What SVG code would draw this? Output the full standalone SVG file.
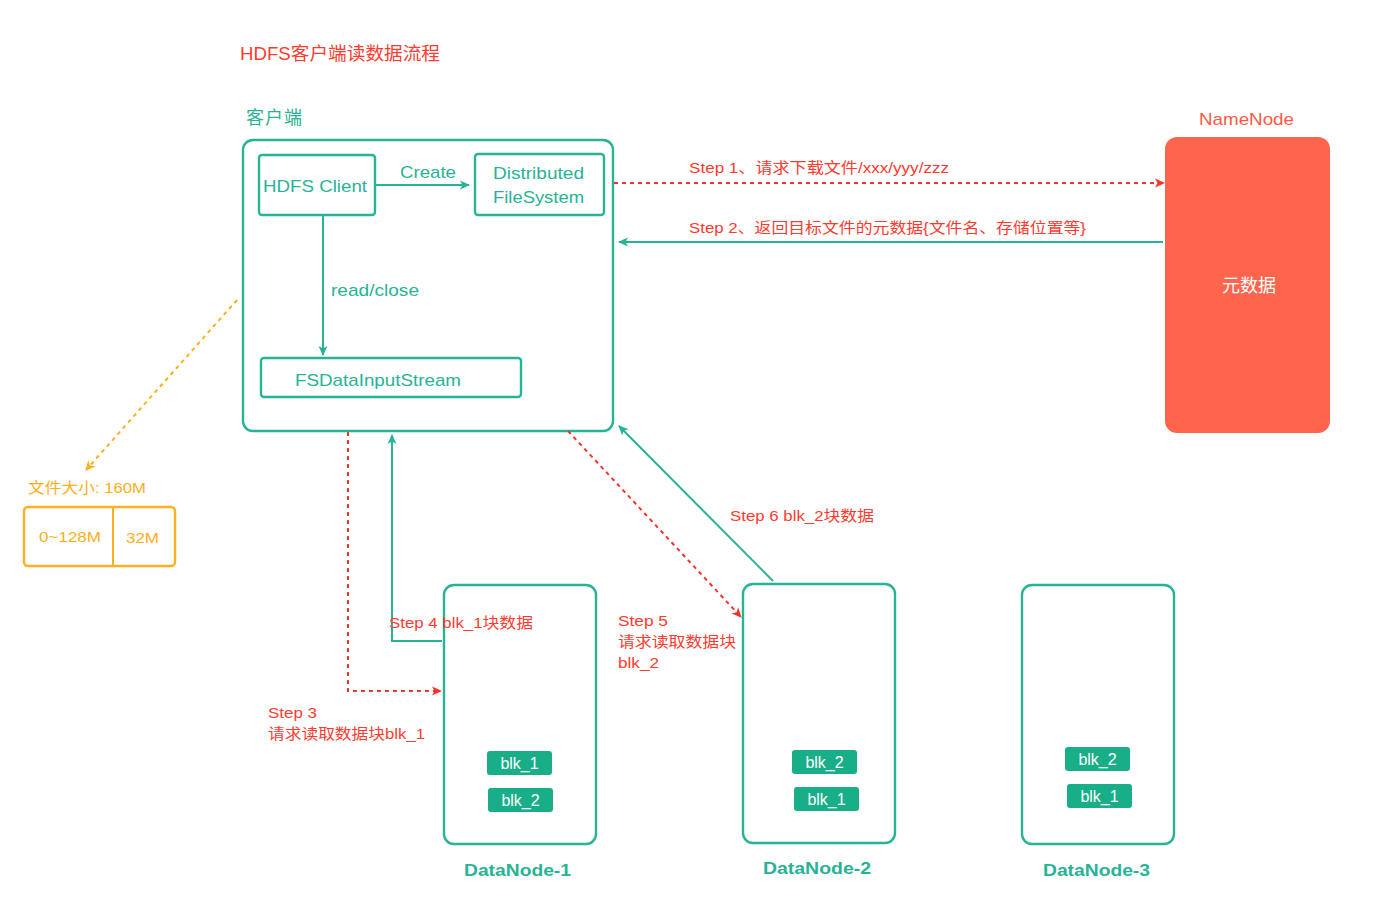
<svg xmlns="http://www.w3.org/2000/svg" width="1396" height="924" viewBox="0 0 1396 924">
<defs>
<style>
text{font-family:"Liberation Sans","Noto Sans CJK SC",sans-serif}
.t{fill:#27B395}
.r{fill:#FF3B2F}
.o{fill:#FFAE1A}
.box{fill:none;stroke:#27B395;stroke-width:2.4}
.blk{fill:#17AE88}
.bt{fill:#ffffff;font-size:16px;text-anchor:middle}
.dn{fill:#27B395;font-size:17px;font-weight:bold}
.tl{fill:none;stroke:#27B395;stroke-width:2}
.rl{fill:none;stroke:#F2352C;stroke-width:2;stroke-dasharray:4 4}
.ol{fill:none;stroke:#FFB022;stroke-width:2;stroke-dasharray:4 4}
</style>
<marker id="at" markerWidth="12" markerHeight="12" refX="9" refY="6" orient="auto" markerUnits="userSpaceOnUse"><path d="M0,1.5 L10,6 L0,10.5 L2.5,6 Z" fill="#27B395"/></marker>
<marker id="ar" markerWidth="12" markerHeight="12" refX="9" refY="6" orient="auto" markerUnits="userSpaceOnUse"><path d="M0,1.5 L10,6 L0,10.5 L2.5,6 Z" fill="#F2352C"/></marker>
<marker id="ao" markerWidth="12" markerHeight="12" refX="9" refY="6" orient="auto" markerUnits="userSpaceOnUse"><path d="M0,1 L10,6 L0,11 L3,6 Z" fill="#FFB022"/></marker>
</defs>
<rect width="1396" height="924" fill="#ffffff"/>

<text x="240" y="60" class="r" font-size="18" textLength="200" lengthAdjust="spacingAndGlyphs">HDFS客户端读数据流程</text>

<g id="client">
<text x="246" y="124" class="t" font-size="18" textLength="56">客户端</text>
<rect x="243" y="140" width="370" height="291" rx="10" class="box"/>
</g>
<g id="hdfs-client">
<rect x="259" y="155" width="116" height="60" rx="3" class="box"/>
<text x="263" y="192" class="t" font-size="17" textLength="104" lengthAdjust="spacingAndGlyphs">HDFS Client</text>
</g>
<g id="dfs">
<rect x="475" y="154" width="129" height="61" rx="3" class="box"/>
<text x="493" y="179" class="t" font-size="17" textLength="91" lengthAdjust="spacingAndGlyphs">Distributed</text>
<text x="493" y="203" class="t" font-size="17" textLength="91" lengthAdjust="spacingAndGlyphs">FileSystem</text>
</g>
<g id="fsdis">
<rect x="261" y="358" width="260" height="39" rx="3" class="box"/>
<text x="295" y="386" class="t" font-size="17" textLength="166" lengthAdjust="spacingAndGlyphs">FSDataInputStream</text>
</g>
<g id="namenode">
<text x="1199" y="125" fill="#FF5A45" font-size="17" textLength="95" lengthAdjust="spacingAndGlyphs">NameNode</text>
<rect x="1165" y="137" width="165" height="296" rx="12" fill="#FF654D"/>
<text x="1249" y="292" fill="#ffffff" font-size="18" text-anchor="middle">元数据</text>
</g>
<g id="filesize">
<text x="28" y="493" class="o" font-size="15" textLength="118" lengthAdjust="spacingAndGlyphs">文件大小: 160M</text>
<rect x="24" y="507" width="151" height="59" rx="4" fill="none" stroke="#FFB022" stroke-width="2.4"/>
<line x1="113" y1="508" x2="113" y2="565" stroke="#FFB022" stroke-width="2"/>
<text x="39" y="542" class="o" font-size="15" textLength="62" lengthAdjust="spacingAndGlyphs">0~128M</text>
<text x="126" y="543" class="o" font-size="15" textLength="33" lengthAdjust="spacingAndGlyphs">32M</text>
</g>
<g id="datanode-1">
<rect x="444" y="585" width="152" height="259" rx="10" class="box"/>
<rect x="487" y="751" width="65" height="24" rx="3" class="blk"/>
<text x="519.5" y="769" class="bt">blk_1</text>
<rect x="488" y="788" width="65" height="24" rx="3" class="blk"/>
<text x="520.5" y="806" class="bt">blk_2</text>
<text x="464" y="876" class="dn" textLength="107" lengthAdjust="spacingAndGlyphs">DataNode-1</text>
</g>
<g id="datanode-2">
<rect x="743" y="584" width="152" height="259" rx="10" class="box"/>
<rect x="792" y="750" width="65" height="24" rx="3" class="blk"/>
<text x="824.5" y="768" class="bt">blk_2</text>
<rect x="794" y="787" width="65" height="24" rx="3" class="blk"/>
<text x="826.5" y="805" class="bt">blk_1</text>
<text x="763" y="874" class="dn" textLength="108" lengthAdjust="spacingAndGlyphs">DataNode-2</text>
</g>
<g id="datanode-3">
<rect x="1022" y="585" width="152" height="259" rx="10" class="box"/>
<rect x="1065" y="747" width="65" height="24" rx="3" class="blk"/>
<text x="1097.5" y="765" class="bt">blk_2</text>
<rect x="1067" y="784" width="65" height="24" rx="3" class="blk"/>
<text x="1099.5" y="802" class="bt">blk_1</text>
<text x="1043" y="876" class="dn" textLength="107" lengthAdjust="spacingAndGlyphs">DataNode-3</text>
</g>

<g id="connectors">
<line x1="375" y1="185" x2="469" y2="185" class="tl" marker-end="url(#at)"/>
<text x="400" y="178" class="t" font-size="17" textLength="56" lengthAdjust="spacingAndGlyphs">Create</text>
<line x1="323" y1="215" x2="323" y2="355" class="tl" marker-end="url(#at)"/>
<text x="331" y="296" class="t" font-size="17" textLength="88" lengthAdjust="spacingAndGlyphs">read/close</text>

<line x1="614" y1="183" x2="1164" y2="183" class="rl" marker-end="url(#ar)"/>
<text x="689" y="173" class="r" font-size="15" textLength="260" lengthAdjust="spacingAndGlyphs">Step 1、请求下载文件/xxx/yyy/zzz</text>
<line x1="1163" y1="242" x2="619" y2="242" class="tl" marker-end="url(#at)"/>
<text x="689" y="233" class="r" font-size="15" textLength="397" lengthAdjust="spacingAndGlyphs">Step 2、返回目标文件的元数据{文件名、存储位置等}</text>

<line x1="237" y1="300" x2="86" y2="470" class="ol" marker-end="url(#ao)"/>

<polyline points="348,432 348,691 441,691" class="rl" marker-end="url(#ar)"/>
<text x="268" y="718" class="r" font-size="15" textLength="49" lengthAdjust="spacingAndGlyphs">Step 3</text>
<text x="268" y="739" class="r" font-size="15" textLength="157" lengthAdjust="spacingAndGlyphs">请求读取数据块blk_1</text>

<polyline points="442,641 392,641 392,435" class="tl" marker-end="url(#at)"/>
<text x="389" y="628" class="r" font-size="15" textLength="144" lengthAdjust="spacingAndGlyphs">Step 4 blk_1块数据</text>

<line x1="568" y1="431" x2="741" y2="617" class="rl" marker-end="url(#ar)"/>
<text x="618" y="626" class="r" font-size="15" textLength="50" lengthAdjust="spacingAndGlyphs">Step 5</text>
<text x="618" y="647" class="r" font-size="15" textLength="118" lengthAdjust="spacingAndGlyphs">请求读取数据块</text>
<text x="618" y="668" class="r" font-size="15" textLength="41" lengthAdjust="spacingAndGlyphs">blk_2</text>

<line x1="773" y1="581" x2="619" y2="426" class="tl" marker-end="url(#at)"/>
<text x="730" y="521" class="r" font-size="15" textLength="144" lengthAdjust="spacingAndGlyphs">Step 6 blk_2块数据</text>
</g>
</svg>
